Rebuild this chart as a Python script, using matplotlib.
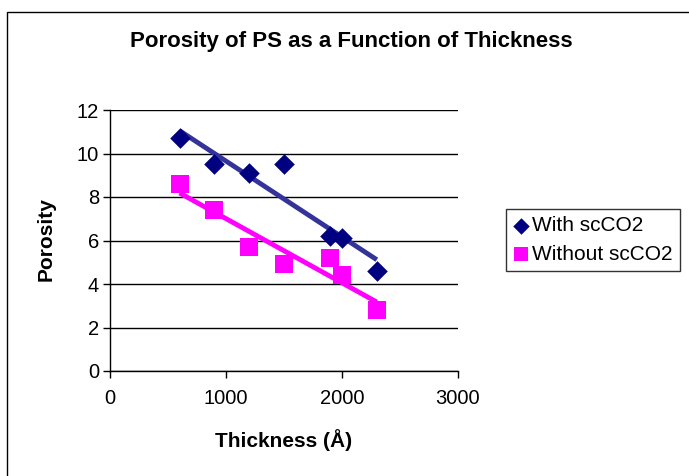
import matplotlib.pyplot as plt
import numpy as np
from matplotlib.patches import Rectangle

plt.rcParams['font.family'] = ['Liberation Sans', 'DejaVu Sans']

thickness = [600, 900, 1200, 1500, 1900, 2000, 2300]
with_sco2 = [10.7, 9.5, 9.1, 9.5, 6.2, 6.1, 4.6]
without_sco2 = [8.6, 7.4, 5.7, 4.9, 5.2, 4.4, 2.8]
x_ticks = [0, 1000, 2000, 3000]
y_ticks = [0, 2, 4, 6, 8, 10, 12]

fig = plt.figure(figsize=(6.89, 4.76), dpi=100)
ax = fig.add_axes([110/689, 1 - 371/476, 348/689, 261/476])

# outer chart border (clipped at right and bottom like the source)
fig.patches.append(Rectangle((7/689, -0.1), 1.2, 1.1 - 12/476, transform=fig.transFigure,
                             fill=False, edgecolor='black', linewidth=1.0))

x = np.array(thickness)
# linear trendlines
for ys, col in [(with_sco2, '#333399'), (without_sco2, '#FF00FF')]:
    k, b = np.polyfit(x, ys, 1)
    xs = np.array([min(thickness), max(thickness)])
    ax.plot(xs, k * xs + b, color=col, lw=3.5, zorder=2, solid_capstyle='butt')

ax.scatter(x, with_sco2, marker='D', s=110, color='#000080', zorder=3,
           label='With scCO2', linewidths=0)
ax.scatter(x, without_sco2, marker='s', s=180, color='#FF00FF', zorder=3,
           label='Without scCO2', linewidths=0)

ax.set_xlim(0, 3000)
ax.set_ylim(0, 12)
ax.set_xticks(x_ticks)
ax.set_yticks(y_ticks)
ax.yaxis.grid(True, color='black', linewidth=1.0)
ax.set_axisbelow(True)
for s in ['top', 'right']:
    ax.spines[s].set_visible(False)
for s in ['left', 'bottom']:
    ax.spines[s].set_linewidth(1.0)
ax.tick_params(axis='both', direction='out', length=5, width=1.0, labelsize=14.5)
ax.tick_params(axis='x', pad=8)
ax.tick_params(axis='y', pad=3)

fig.text(351/689, 1 - 42/476, 'Porosity of PS as a Function of Thickness',
         ha='center', va='center', fontsize=16, fontweight='bold')
fig.text(284/689, 1 - 440/476, 'Thickness (Å)', ha='center', va='center',
         fontsize=15, fontweight='bold')
fig.text(46/689, 1 - 239/476, 'Porosity', ha='center', va='center',
         rotation=90, fontsize=15, fontweight='bold')

leg = fig.legend(loc='center left', bbox_to_anchor=(506/689, 1 - 240/476),
                 fontsize=15, frameon=True, fancybox=False, edgecolor='black',
                 handlelength=0.7, handletextpad=0.2, borderpad=0.35,
                 labelspacing=0.45, borderaxespad=0, markerscale=0.8)
leg.get_frame().set_linewidth(1.0)

fig.savefig('out.png', dpi=100)
